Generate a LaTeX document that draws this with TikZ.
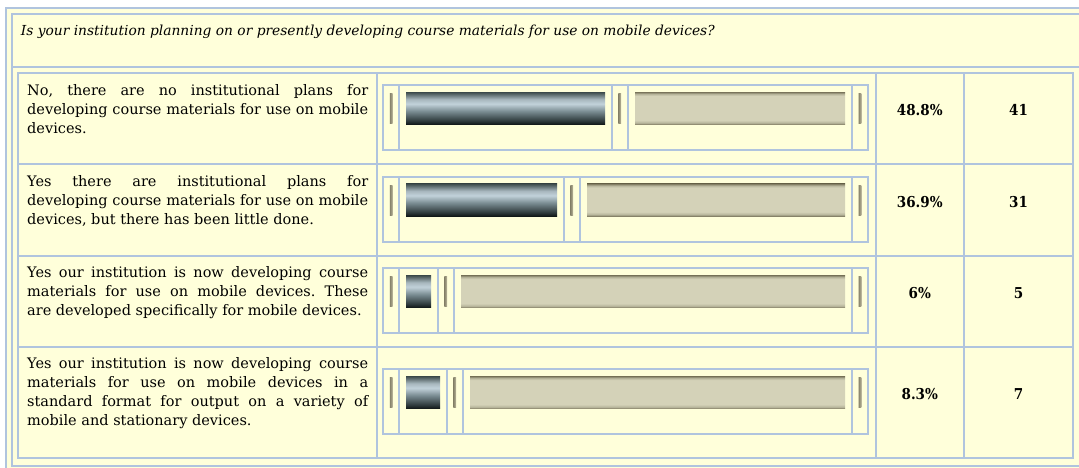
\documentclass[tikz,border=0pt]{standalone}
\usepackage{fontspec}
\setmainfont{DejaVu Serif}
\newfontfamily\numfont{DejaVu Serif Condensed}
\frenchspacing

\definecolor{paper}{HTML}{FFFFDA}
\definecolor{rule}{HTML}{B0C4DE}
\definecolor{steeltop}{HTML}{3C4A4A}
\definecolor{steellight}{HTML}{C2D2DA}
\definecolor{steelmid}{HTML}{7C8E94}
\definecolor{steeldark}{HTML}{2E3A3C}
\definecolor{steelbot}{HTML}{0E1414}
\definecolor{sandedge}{HTML}{7A765C}
\definecolor{sandsoft}{HTML}{B8B69C}
\definecolor{sand}{HTML}{D4D2B8}
\definecolor{knobdark}{HTML}{86826A}
\definecolor{knoblight}{HTML}{C4C0A4}

\pgfdeclareverticalshading{steelbar}{100bp}{color(0bp)=(steelbot); color(25bp)=(steelbot);
  color(31bp)=(steeldark); color(46bp)=(steelmid); color(57bp)=(steellight);
  color(64bp)=(steellight!80!steeltop); color(75bp)=(steeltop); color(100bp)=(steeltop)}
\pgfdeclareverticalshading{sandbar}{100bp}{color(0bp)=(sandedge); color(25bp)=(sandedge);
  color(28bp)=(sandsoft); color(32bp)=(sand); color(69bp)=(sand);
  color(72bp)=(sandsoft); color(75bp)=(sandedge); color(100bp)=(sandedge)}
\pgfdeclarehorizontalshading{knob}{100bp}{color(0bp)=(knobdark); color(25bp)=(knobdark);
  color(50bp)=(knobdark!60!knoblight); color(75bp)=(knoblight); color(100bp)=(knoblight)}

\begin{document}
\begin{tikzpicture}[x=1pt,y=-1pt,
    grid/.style={draw=rule,line width=1.8pt},
    ans/.style={anchor=north west,inner sep=0pt,text width=341pt,align=justify,
      font=\fontsize{14.5}{18.8}\selectfont},
    num/.style={inner sep=0pt,font=\numfont\bfseries\fontsize{15}{18}\selectfont}]
    \useasboundingbox (0,0) rectangle (1079,468);
    \clip (0,0) rectangle (1079,468);
    \fill[white] (0,0) rectangle (1079,468);
    \fill[paper] (6,8) rectangle (1090,480);

    % outer frame and question
    \draw[grid] (6,8) rectangle (1090,480);
    \draw[grid] (12,14) rectangle (1090,466);
    \draw[grid] (12,66.7) -- (1090,66.7);
    \node[anchor=west,inner sep=0pt,font=\itshape\fontsize{13.8}{16}\selectfont] (question) at (20.7,31.7)
        {Is your institution planning on or presently developing course materials for use on mobile devices?};

    % answer table
    \draw[grid] (18,72.7) rectangle (1073,458);
    \foreach \x in {376.7,875.7,964}
        \draw[grid] (\x,72.7) -- (\x,458);
    \foreach \y in {164,256,347}
        \draw[grid] (18,\y) -- (1073,\y);

    \node[ans] (ans1) at (27,84.2) {No, there are no institutional plans for\linebreak
        developing course materials for use on mobile\linebreak devices.};
    \node[ans] (ans2) at (27,175.5) {Yes there are institutional plans for\linebreak
        developing course materials for use on mobile\linebreak devices, but there has been little done.};
    \node[ans] (ans3) at (27,266.5) {Yes our institution is now developing course\linebreak
        materials for use on mobile devices. These\linebreak are developed specifically for mobile devices.};
    \node[ans] (ans4) at (27,357.5) {Yes our institution is now developing course\linebreak
        materials for use on mobile devices in a\linebreak standard format for output on a variety of\linebreak
        mobile and stationary devices.};

    % bars, percentages and counts
    \foreach \rt/\rb/\bend/\pct/\cnt [count=\i] in {72.7/164/605/48.8/41, 164/256/557/36.9/31,
                                                256/347/431/6/5, 347/458/440/8.3/7} {
        \pgfmathsetmacro\mid{(\rt+\rb)/2}
        \pgfmathsetmacro\bt{\mid-33.3}
        \pgfmathsetmacro\bb{\mid+31.7}
        \pgfmathsetmacro\ca{\bend+6.7}
        \pgfmathsetmacro\cb{\ca+16}
        \draw[grid] (382.7,\bt) rectangle (868,\bb);
        \foreach \x in {399,\ca,\cb,851.7}
            \draw[grid] (\x,\bt) -- (\x,\bb);
        \shade[shading=steelbar] (406,\bt+7) rectangle (\bend,\bt+39.7);
        \shade[shading=sandbar] (\cb+7.5,\bt+7) rectangle (845,\bt+39.7);
        \foreach \hx in {391.3,\ca+8,860}
            \shade[shading=knob] (\hx-1.4,\bt+8.3) rectangle (\hx+1.4,\bt+38.3);
        \node[num] (pct\i) at (919.8,\mid-8.3) {\pct\%};
        \node[num] (cnt\i) at (1018.5,\mid-8.3) {\cnt};
    }
\end{tikzpicture}
\end{document}
